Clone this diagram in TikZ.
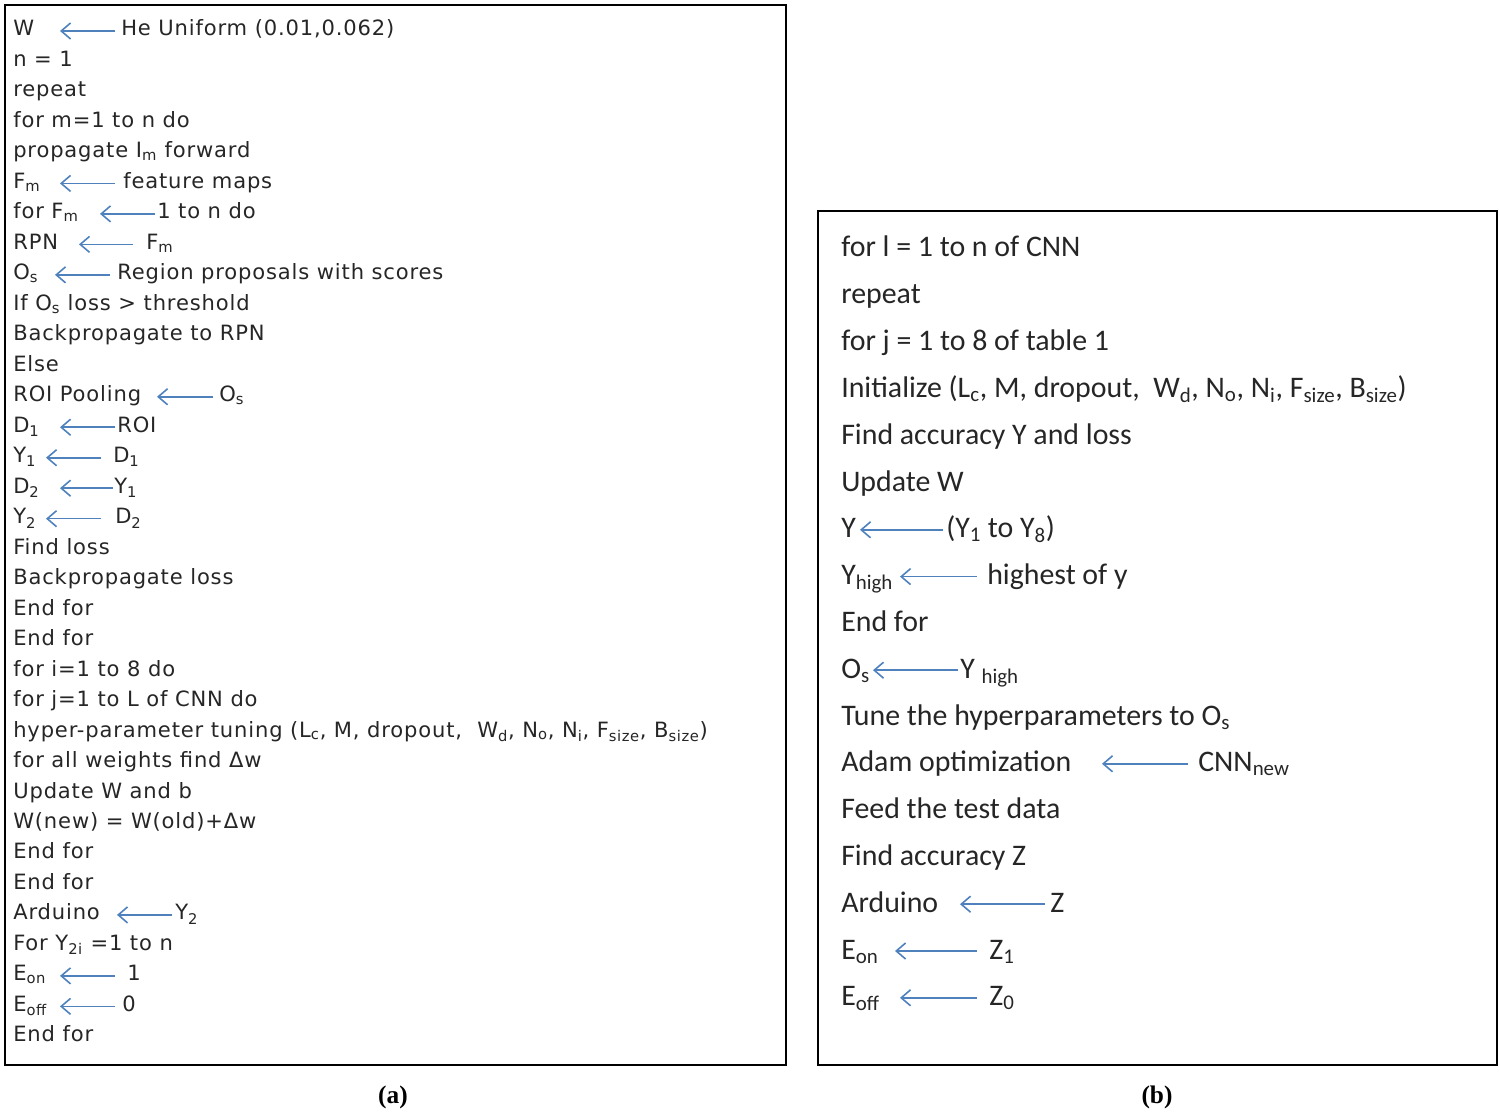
\documentclass[tikz,border=0pt]{standalone}
\usepackage{fontspec}
\usetikzlibrary{arrows.meta}
\newfontfamily\lfont[LetterSpace=4]{DejaVu Sans}
\newfontfamily\rfont{Carlito}
\newfontfamily\capfont{Liberation Serif}
\definecolor{arrblue}{RGB}{79,129,189}
\tikzset{
 lt/.style={anchor=base west,inner sep=0pt,font=\lfont\fontsize{15.8}{17}\selectfont,text=black!85},
 rt/.style={anchor=base west,inner sep=0pt,font=\rfont\fontsize{22.4}{25}\selectfont,text=black!85},
 arr/.style={draw=arrblue,line width=1.2pt,-{Straight Barb[length=7pt,width=12pt]}},
 frame/.style={draw=black,line width=1.5pt},
 captext/.style={font=\capfont\bfseries\fontsize{19}{22}\selectfont}
}
\newcommand\sub[1]{\textsubscript{#1}}
\newcommand\LL[2]{\node[lt] (l#1) at (13,{30+#1*30.48+6}) {#2};}
\newcommand\LA[6]{\node[lt] (l#1) at (13,{30+#1*30.48+6}) {#2};
 \node[lt] (lr#1) at (#5,{30+#1*30.48+6}) {#6};
 \coordinate (lt#1) at (#3,{30+#1*30.48+1});
 \coordinate (ls#1) at (#4,{30+#1*30.48+1});
 \draw[arr] (ls#1) -- (lt#1);}
\newcommand\RL[2]{\node[rt] (r#1) at (841,{248+#1*46.8+9}) {#2};}
\newcommand\RA[6]{\node[rt] (r#1) at (841,{248+#1*46.8+9}) {#2};
 \node[rt] (rr#1) at (#5,{248+#1*46.8+9}) {#6};
 \coordinate (rt#1) at (#3,{248+#1*46.8+1});
 \coordinate (rs#1) at (#4,{248+#1*46.8+1});
 \draw[arr] (rs#1) -- (rt#1);}
\begin{document}
\begin{tikzpicture}[x=0.75pt,y=-0.75pt]
\useasboundingbox (0,0) rectangle (1500,1116);
\node[frame,minimum width=781*0.75pt,minimum height=1060*0.75pt,anchor=north west,inner sep=0pt] (boxa) at (4,4) {};
\node[frame,minimum width=679*0.75pt,minimum height=854*0.75pt,anchor=north west,inner sep=0pt] (boxb) at (817,210) {};
\LA{0}{W}{60}{115}{121}{He Uniform (0.01,0.062)}
\LL{1}{n = 1}
\LL{2}{repeat}
\LL{3}{for m=1 to n do}
\LL{4}{propagate I\sub{m} forward}
\LA{5}{F\sub{m}}{60}{115}{123}{feature maps}
\LA{6}{for F\sub{m}}{100}{155}{157}{1 to n do}
\LA{7}{RPN}{79}{133}{146}{F\sub{m}}
\LA{8}{O\sub{s}}{55}{110}{117}{Region proposals with scores}
\LL{9}{If O\sub{s} loss > threshold}
\LL{10}{Backpropagate to RPN}
\LL{11}{Else}
\LA{12}{ROI Pooling}{157}{213}{219}{O\sub{s}}
\LA{13}{D\sub{1}}{60}{115}{117}{ROI}
\LA{14}{Y\sub{1}}{46}{101}{113}{D\sub{1}}
\LA{15}{D\sub{2}}{60}{113}{114}{Y\sub{1}}
\LA{16}{Y\sub{2}}{46}{101}{115}{D\sub{2}}
\LL{17}{Find loss}
\LL{18}{Backpropagate loss}
\LL{19}{End for}
\LL{20}{End for}
\LL{21}{for i=1 to 8 do}
\LL{22}{for j=1 to L of CNN do}
\LL{23}{hyper-parameter tuning (L\sub{c}, M, dropout,\ \ W\sub{d}, N\sub{o}, N\sub{i}, F\sub{size}, B\sub{size})}
\LL{24}{for all weights find Δw}
\LL{25}{Update W and b}
\LL{26}{W(new) = W(old)+Δw}
\LL{27}{End for}
\LL{28}{End for}
\LA{29}{Arduino}{117}{172}{175}{Y\sub{2}}
\LL{30}{For Y\sub{2i} =1 to n}
\LA{31}{E\sub{on}}{60}{115}{127}{1}
\LA{32}{E\sub{off}}{60}{115}{122}{0}
\LL{33}{End for}
%
\RL{0}{for l = 1 to n of CNN}
\RL{1}{repeat}
\RL{2}{for j = 1 to 8 of table 1}
\RL{3}{Initialize (L\sub{c}, M, dropout,\ \ W\sub{d}, N\sub{o}, N\sub{i}, F\sub{size}, B\sub{size})}
\RL{4}{Find accuracy Y and loss}
\RL{5}{Update W}
\RA{6}{Y}{860}{943}{946}{(Y\sub{1} to Y\sub{8})}
\RA{7}{Y\sub{high}}{900}{977}{987}{highest of y}
\RL{8}{End for}
\RA{9}{O\sub{s}}{873}{958}{960}{Y \sub{high}}
\RL{10}{Tune the hyperparameters to O\sub{s}}
\RA{11}{Adam optimization}{1102}{1188}{1198}{CNN\sub{new}}
\RL{12}{Feed the test data}
\RL{13}{Find accuracy Z}
\RA{14}{Arduino}{960}{1045}{1050}{Z}
\RA{15}{E\sub{on}}{895}{977}{989}{Z\sub{1}}
\RA{16}{E\sub{off}}{900}{977}{989}{Z\sub{0}}
%
\node[captext] (capa) at (393,1097) {(a)};
\node[captext] (capb) at (1157,1097) {(b)};
\end{tikzpicture}
\end{document}
